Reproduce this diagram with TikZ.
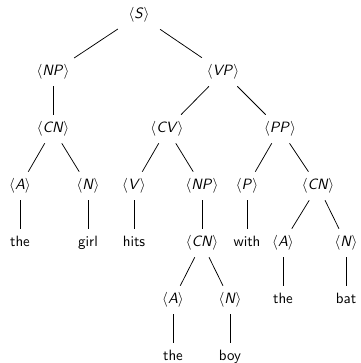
\documentclass[tikz,border=0pt]{standalone}
\begin{document}
\begin{tikzpicture}[x=0.67pt,y=-0.67pt,
  nt/.style={font=\sffamily, text height=7.5pt, text depth=2.5pt, inner ysep=4.4pt, inner xsep=1pt, minimum width=28pt},
  edge/.style={line width=0.5pt}]
\useasboundingbox (0,0) rectangle (360,363);
\newcommand{\cat}[1]{$\langle$\textit{#1}$\rangle$}
\node[nt] (S) at (139,15) {\cat{S}};
\node[nt] (NPa) at (53,72) {\cat{NP}};
\node[nt] (VP) at (223,72) {\cat{VP}};
\node[nt] (CNa) at (53,129) {\cat{CN}};
\node[nt] (CV) at (167,129) {\cat{CV}};
\node[nt] (PP) at (280,129) {\cat{PP}};
\node[nt] (Aa) at (20,186) {\cat{A}};
\node[nt] (Na) at (88,186) {\cat{N}};
\node[nt] (V) at (134,186) {\cat{V}};
\node[nt] (NPb) at (202,186) {\cat{NP}};
\node[nt] (P) at (247,186) {\cat{P}};
\node[nt] (CNc) at (318,186) {\cat{CN}};
\node[nt] (the1) at (20,243) {the};
\node[nt] (girl) at (88,243) {girl};
\node[nt] (hits) at (134,243) {hits};
\node[nt] (CNb) at (202,243) {\cat{CN}};
\node[nt] (with) at (247,243) {with};
\node[nt] (Ac) at (283,243) {\cat{A}};
\node[nt] (Nc) at (346,243) {\cat{N}};
\node[nt] (Ab) at (173,300) {\cat{A}};
\node[nt] (Nb) at (230,300) {\cat{N}};
\node[nt] (the3) at (283,300) {the};
\node[nt] (bat) at (346,300) {bat};
\node[nt] (the2) at (173,357) {the};
\node[nt] (boy) at (230,357) {boy};
\draw[edge] (S) -- (NPa);
\draw[edge] (S) -- (VP);
\draw[edge] (NPa) -- (CNa);
\draw[edge] (CNa) -- (Aa);
\draw[edge] (CNa) -- (Na);
\draw[edge] (Aa) -- (the1);
\draw[edge] (Na) -- (girl);
\draw[edge] (VP) -- (CV);
\draw[edge] (VP) -- (PP);
\draw[edge] (CV) -- (V);
\draw[edge] (CV) -- (NPb);
\draw[edge] (V) -- (hits);
\draw[edge] (NPb) -- (CNb);
\draw[edge] (CNb) -- (Ab);
\draw[edge] (CNb) -- (Nb);
\draw[edge] (Ab) -- (the2);
\draw[edge] (Nb) -- (boy);
\draw[edge] (PP) -- (P);
\draw[edge] (PP) -- (CNc);
\draw[edge] (P) -- (with);
\draw[edge] (CNc) -- (Ac);
\draw[edge] (CNc) -- (Nc);
\draw[edge] (Ac) -- (the3);
\draw[edge] (Nc) -- (bat);
\end{tikzpicture}
\end{document}
